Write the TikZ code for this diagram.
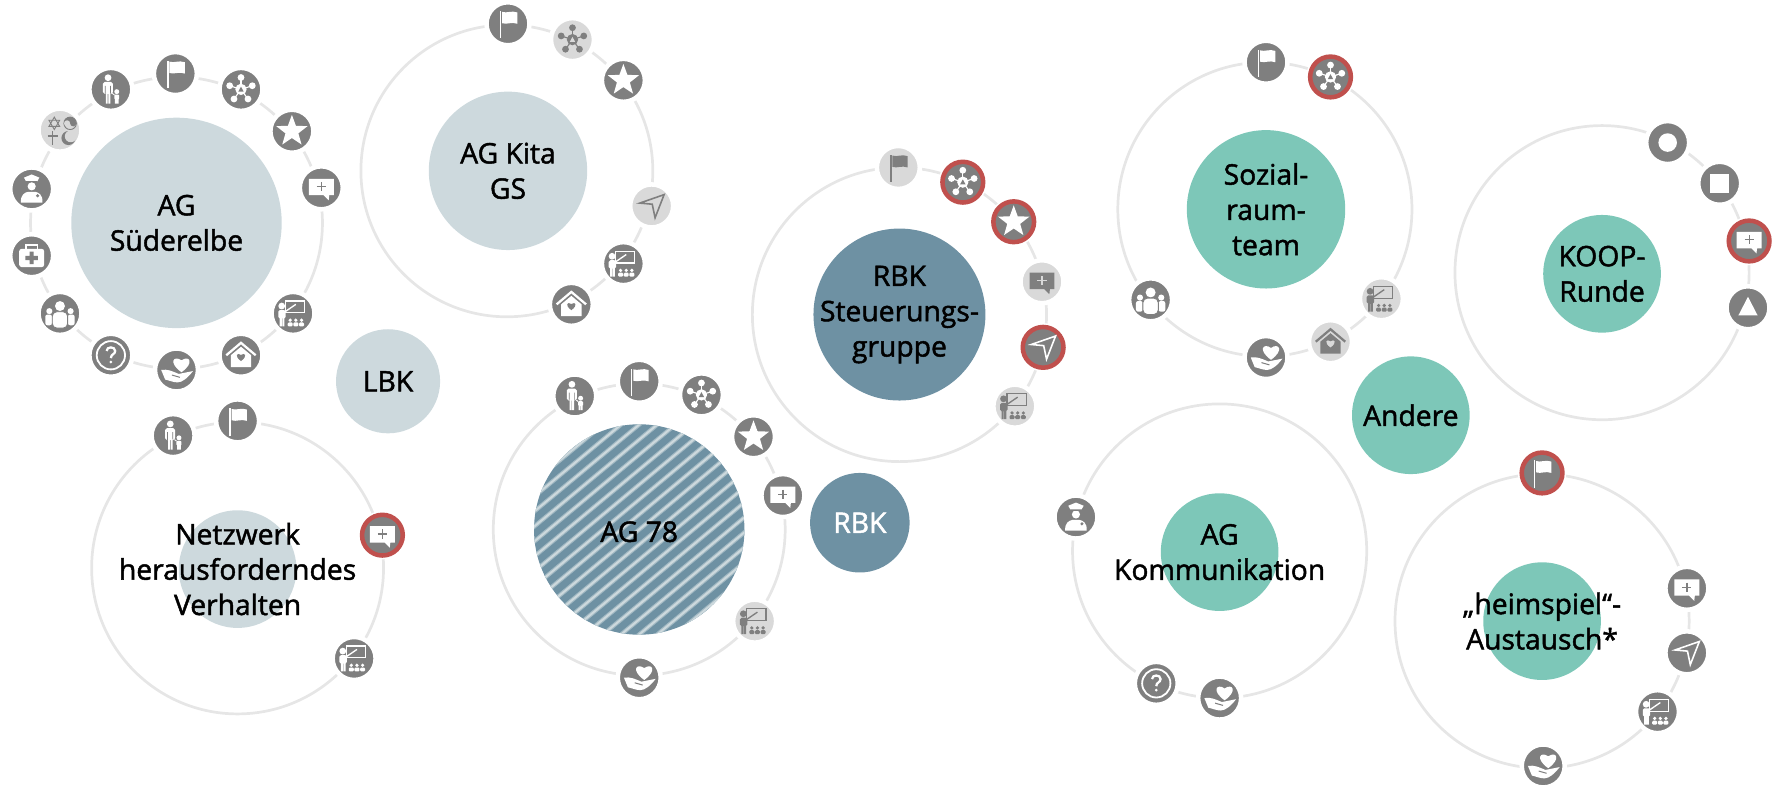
\documentclass[tikz,border=0pt]{standalone}
\usepackage{fontspec}
\setmainfont[FakeBold=1.6]{Open Sans}
\definecolor{icongrey}{HTML}{7F7F7F}
\definecolor{iconpale}{HTML}{D9D9D9}
\definecolor{iconred}{HTML}{C0504D}
\definecolor{ringgrey}{HTML}{E6E6E6}
\definecolor{paleblue}{HTML}{CDD9DD}
\definecolor{steel}{HTML}{6E91A3}
\definecolor{teal}{HTML}{7DC7B8}
\tikzset{
  orbit/.style={draw=ringgrey,line width=1.2pt},
  disc/.style={circle,inner sep=0pt},
  lbl/.style={align=center,inner sep=0pt,font=\fontsize{12.5}{15.6}\selectfont},
  icodark/.style={circle,inner sep=0pt,fill=icongrey,draw=white,line width=2pt,minimum size=19pt},
  icolight/.style={circle,inner sep=0pt,fill=iconpale,draw=white,line width=2pt,minimum size=19pt},
  icored/.style={circle,inner sep=0pt,fill=icongrey,draw=iconred,line width=2pt,minimum size=18pt,
    preaction={draw=white,line width=3.4pt}},
}
% hub: name, centre, radius in px, colour, text colour, text
\def\HUB#1#2#3#4#5#6{\node[disc,fill=#4,minimum size=#3pt] (#1) at (#2) {};
  \node[lbl,text=#5] (#1text) at (#2) {#6};}
\def\ORB#1#2{\draw[orbit] (#1) circle (#2);}
% icons: name, centre, glyph
\def\DK#1#2#3{\node[icodark] (#1) at (#2) {};\colorlet{iconfg}{white}\colorlet{iconbg}{icongrey}
  \begin{scope}[shift={(#2)}] #3 \end{scope}}
\def\LT#1#2#3{\node[icolight] (#1) at (#2) {};\colorlet{iconfg}{icongrey}\colorlet{iconbg}{iconpale}
  \begin{scope}[shift={(#2)}] #3 \end{scope}}
\def\RD#1#2#3{\node[icored] (#1) at (#2) {};\colorlet{iconfg}{white}\colorlet{iconbg}{icongrey}
  \begin{scope}[shift={(#2)}] #3 \end{scope}}
% glyphs, drawn in px round the icon centre, y going down
\def\gFlag{\fill[iconfg] (-7.4,-11) rectangle (-6,13);
  \fill[iconfg] (-5.2,-10.5) .. controls (-1,-9) and (3,-12) .. (8.3,-10) -- (8.3,0) .. controls (3,-2) and (-1,1) .. (-5.2,-.5) -- cycle;}
\def\gNet{\foreach \a in {270,342,54,126,198} {\draw[iconfg,line width=.5pt] (0,0) -- (\a:10.5); \fill[iconfg] (\a:10.5) circle (3);}
  \fill[iconfg] (0,0) circle (5); \fill[iconbg] (0,-2.4) -- (2.4,2) -- (-2.4,2) -- cycle;}
\def\gStar{\fill[iconfg] (270:14.5) -- (306:6) -- (342:14.5) -- (18:6) -- (54:14.5) -- (90:6) -- (126:14.5) -- (162:6) -- (198:14.5) -- (234:6) -- cycle;}
\def\gAdd{\fill[iconfg] (-11,-8) -- (11,-8) -- (11,6.5) -- (7,6.5) -- (6.5,11) -- (2,6.5) -- (-11,6.5) -- cycle;
  \draw[iconbg,line width=.55pt] (-4,-1) -- (4,-1) (0,-5) -- (0,3);}
\def\gSend{\draw[iconfg,line width=.7pt] (-10.5,-2.5) -- (11,-10) -- (3,10.5) -- (.5,-1.5) -- cycle;}
\def\gTeach{\draw[iconfg,line width=.5pt] (-7,-11) rectangle (10,-.5);
  \draw[iconfg,line width=.6pt] (-7,-1.5) -- (2.5,-8);
  \fill[iconfg] (-10,-6.5) circle (3);
  \fill[iconfg,rounded corners=.7pt] (-13,-3) rectangle (-6.5,4.5);
  \fill[iconfg] (-11.8,4) rectangle (-9.9,11.5) (-9.5,4) rectangle (-7.6,11.5);
  \foreach \a in {-2.5,2.5,7.5} {\fill[iconfg] (\a,6) circle (1.6); \fill[iconfg,rounded corners=.5pt] (\a-2.2,8) rectangle (\a+2.2,11.5);}}
\def\gHeart{.. controls (-1.7,-.2) and (-1,-1.2) .. (0,-.5) .. controls (1,-1.2) and (1.7,-.2) .. (0,1) -- cycle}
\def\gHome{\draw[iconfg,line width=1pt] (-13,0) -- (0,-11) -- (13,0);
  \fill[iconfg] (-9,0) -- (0,-7.5) -- (9,0) -- (9,10.5) -- (-9,10.5) -- cycle;
  \fill[iconbg,shift={(0,1.5)},scale=3.6] (0,1) \gHeart;}
\def\gHands{\fill[iconfg,shift={(4.4,-5)},scale=7] (0,1) \gHeart;
  \fill[iconfg] (-13.5,0) .. controls (-8,-1) and (-4,1) .. (2,3.5) -- (14.5,1) .. controls (10,7) and (5,11) .. (1,11) .. controls (-3,11) and (-7,9) .. (-10,8.5) -- cycle;
  \draw[iconbg,line width=.45pt] (-4,4.5) -- (3,6.5);}
\def\gQuest{\draw[iconfg,line width=.8pt] (0,0) circle (12.5);
  \draw[iconfg,line width=1pt] (-3.8,-3.8) .. controls (-3.8,-8) and (3.8,-8) .. (3.8,-3.8) .. controls (3.8,-.8) and (0,-1) .. (0,2.5);
  \fill[iconfg] (0,6) circle (1.3);}
\def\gPeople{\fill[iconfg] (-9.4,-2) circle (2.7) (9.4,-2) circle (2.7);
  \fill[iconfg,rounded corners=1pt] (-13,1) rectangle (-7,10.5) (7,1) rectangle (13,10.5);
  \fill[iconfg] (0,-6.5) circle (4.4);
  \fill[iconfg,rounded corners=2pt,draw=iconbg,line width=.4pt] (-6.8,-1.5) rectangle (6.8,13);}
\def\gAid{\draw[iconfg,line width=.7pt] (-5,-6) -- (-5,-9.5) -- (5,-9.5) -- (5,-6);
  \fill[iconfg,rounded corners=1pt] (-11,-6) rectangle (11,10);
  \fill[iconbg] (-1.8,-3.5) rectangle (1.8,7.5) (-5.5,.2) rectangle (5.5,3.8);}
\def\gPolice{\fill[iconfg] (-5,-6.8) -- (-6.8,-10) -- (0,-12.8) -- (6.8,-10) -- (5,-6.8) -- cycle;
  \fill[iconfg] (0,-2.3) circle (3.6);
  \draw[iconbg,line width=.4pt] (-5,-6.2) -- (5,-6.2);
  \fill[iconfg] (-9.5,12) .. controls (-10,5) and (-6,3) .. (-3,2.5) -- (3,2.5) .. controls (6,3) and (10,5) .. (9.5,12) -- cycle;
  \fill[iconbg] (5.3,6) circle (1.5);}
\def\gFaith{\begin{scope}[line width=.4pt]
  \draw[iconfg,shift={(-5,-6)}] (270:5.5) -- (30:5.5) -- (150:5.5) -- cycle (90:5.5) -- (210:5.5) -- (330:5.5) -- cycle;
  \draw[iconfg] (9,-6) circle (5.5);
  \fill[iconfg] (3.5,-6) .. controls (3.5,-13.3) and (14.5,-13.3) .. (14.5,-6) -- cycle;
  \fill[iconbg] (6.3,-6) circle (2.7); \fill[iconfg] (11.7,-6) circle (2.7);
  \draw[iconfg,line width=.7pt] (-6.5,1) -- (-6.5,13) (-11,5) -- (-2,5);
  \fill[iconfg] (7.5,7) circle (6.2); \fill[iconbg] (9.5,5.5) circle (5.2);
  \end{scope}}
\def\gDonut{\fill[iconfg] (0,0) circle (8.2);}
\def\gSquare{\fill[iconfg] (-8.4,-8.4) rectangle (8.4,8.4);}
\def\gTri{\fill[iconfg] (0,-9.7) -- (8.5,6.8) -- (-8.5,6.8) -- cycle;}
\def\gFamily{\fill[iconfg] (-2.5,-10.3) circle (3);
  \fill[iconfg,rounded corners=.8pt] (-7,-6.6) rectangle (1.8,4);
  \fill[iconbg] (-5.2,-3) rectangle (-4.6,4) (-.6,-3) rectangle (0,4);
  \fill[iconfg] (-4.5,3) rectangle (-2.8,12.5) (-2.3,3) rectangle (-.5,12.5);
  \draw[iconfg,line width=.4pt] (1.2,3.5) -- (3.2,5);
  \fill[iconfg] (5.2,2) circle (2.2);
  \fill[iconfg,rounded corners=.5pt] (3,4.6) rectangle (7.4,9);
  \fill[iconfg] (3.5,8.5) rectangle (5,12.5) (5.4,8.5) rectangle (6.9,12.5);}
\begin{document}
\begin{tikzpicture}[x=0.5pt,y=-0.5pt]
\useasboundingbox (0,0) rectangle (1568,697.4);
% the rings first, the icons cut them
\ORB{156,197}{129} \ORB{448,151}{129} \ORB{210,502}{129} \ORB{565,468}{129} \ORB{795,278}{130}
\ORB{1118,185}{130} \ORB{1416,241}{130} \ORB{1078,487}{130} \ORB{1363,549}{130}
\HUB{sued}{156,197}{93}{paleblue}{black}{AG\\Süderelbe}
\HUB{kita}{449,151}{70}{paleblue}{black}{AG Kita\\GS}
\HUB{lbk}{343,337}{46}{paleblue}{black}{LBK}
\HUB{netz}{210,503}{52}{paleblue}{black}{Netzwerk\\herausforderndes\\Verhalten}
\node[disc,fill=steel,minimum size=93pt] (ag) at (565,468) {};
\begin{scope}
  \clip (565,468) circle (93);
  \foreach \d in {-320,-304,...,320} {
    \draw[color=steel!45!paleblue,line width=1.9pt] (565+\d-157,598) -- (565+\d+157,338);
    \draw[paleblue,line width=.9pt] (565+\d-157,598) -- (565+\d+157,338);
  }
\end{scope}
\node[lbl] (agtext) at (565,470) {AG 78};
\HUB{rbk}{760,462}{44}{steel}{white}{RBK}
\HUB{steu}{795,278}{76}{steel}{black}{RBK\\Steuerungs-\\gruppe}
\HUB{soz}{1119,185}{70}{teal}{black}{Sozial-\\raum-\\team}
\HUB{koop}{1416,242}{52}{teal}{black}{KOOP-\\Runde}
\HUB{and}{1247,367}{52}{teal}{black}{Andere}
\HUB{komm}{1078,488}{52}{teal}{black}{AG\\Kommunikation}
\HUB{heim}{1363,549}{52}{teal}{black}{„heimspiel“-\\Austausch*}
% AG Suederelbe
\DK{sueA}{155,65}{\gFlag} \DK{sueB}{213,79}{\gNet} \DK{sueC}{258,116}{\gStar}
\DK{sueD}{284,166}{\gAdd} \DK{sueE}{259,277}{\gTeach} \DK{sueF}{213,314}{\gHome}
\DK{sueG}{156,327}{\gHands} \DK{sueH}{98,314}{\gQuest} \DK{sueI}{53,277}{\gPeople}
\DK{sueJ}{28,226}{\gAid} \DK{sueK}{28,167}{\gPolice} \LT{sueL}{53,115}{\gFaith}
\DK{sueM}{98,79}{\gFamily}
% AG Kita
\DK{kitA}{449,21}{\gFlag} \LT{kitB}{506,35}{\gNet} \DK{kitC}{551,71}{\gStar}
\LT{kitD}{576,182}{\gSend} \DK{kitE}{551,233}{\gTeach} \DK{kitF}{505,269}{\gHome}
% Netzwerk
\DK{netA}{210,372}{\gFlag} \DK{netB}{153,385}{\gFamily}
\RD{netC}{338,473}{\gAdd} \DK{netD}{313,582}{\gTeach}
% AG 78
\DK{agA}{565,337}{\gFlag} \DK{agB}{508,350}{\gFamily} \DK{agC}{620,349}{\gNet}
\DK{agD}{666,386}{\gStar} \DK{agE}{692,438}{\gAdd} \LT{agF}{667,549}{\gTeach}
\DK{agG}{565,599}{\gHands}
% RBK Steuerungsgruppe
\LT{steA}{794,148}{\gFlag} \RD{steB}{851,161}{\gNet} \RD{steC}{896,196}{\gStar}
\LT{steD}{921,249}{\gAdd} \RD{steE}{922,307}{\gSend} \LT{steF}{897,359}{\gTeach}
% Sozialraumteam
\DK{sozA}{1119,55}{\gFlag} \RD{sozB}{1176,68}{\gNet} \LT{sozC}{1221,264}{\gTeach}
\LT{sozD}{1176,302}{\gHome} \DK{sozE}{1119,316}{\gHands} \DK{sozF}{1017,265}{\gPeople}
% KOOP
\DK{kooA}{1474,126}{\gDonut} \DK{kooB}{1520,162}{\gSquare}
\RD{kooC}{1546,213}{\gAdd} \DK{kooD}{1545,272}{\gTri}
% AG Kommunikation
\DK{komA}{951,457}{\gPolice} \DK{komB}{1022,604}{\gQuest} \DK{komC}{1078,617}{\gHands}
% heimspiel
\RD{heiA}{1363,418}{\gFlag} \DK{heiB}{1491,520}{\gAdd} \DK{heiC}{1491,577}{\gSend}
\DK{heiD}{1465,629}{\gTeach} \DK{heiE}{1364,677}{\gHands}
\end{tikzpicture}
\end{document}
